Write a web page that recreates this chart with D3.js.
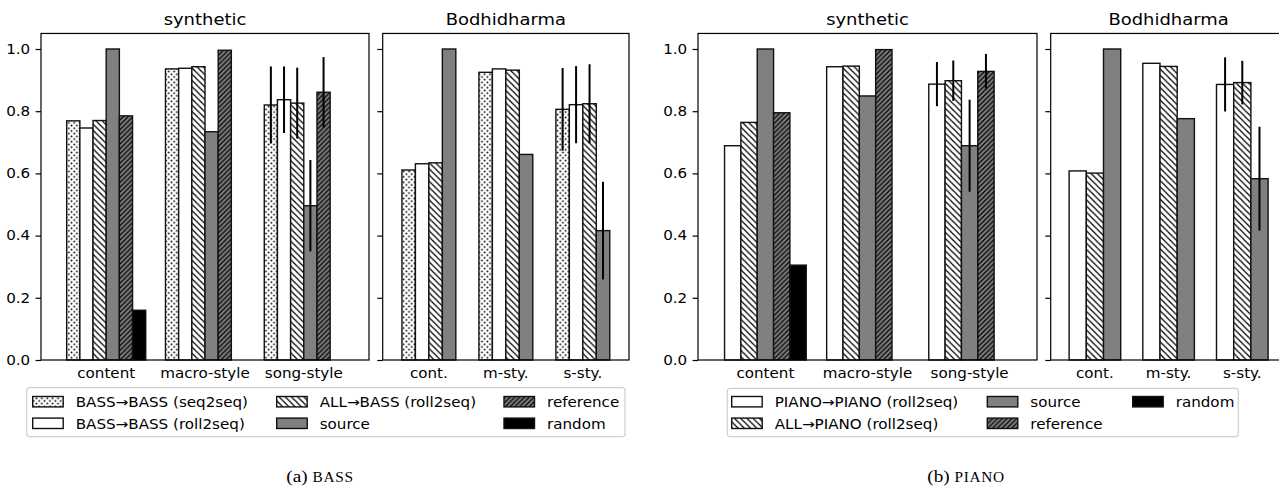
<!DOCTYPE html>
<html>
<head>
<meta charset="utf-8">
<script src="https://cdn.jsdelivr.net/npm/d3@7"></script>
<style>
body { margin: 0; background: #fff; }
text { font-family: "DejaVu Sans", sans-serif; fill: #000; }
</style>
</head>
<body>
<script>
// categories on the x axis
var synthCats = ["content", "macro-style", "song-style"];
var bodhiCats = ["cont.", "m-sty.", "s-sty."];

// legend names
var bassNames = ["BASS\u2192BASS (seq2seq)", "BASS\u2192BASS (roll2seq)", "ALL\u2192BASS (roll2seq)", "source", "reference", "random"];
var pianoNames = ["PIANO\u2192PIANO (roll2seq)", "ALL\u2192PIANO (roll2seq)", "source", "reference", "random"];

// values: one row per method, one column per category
var bassSynthVals = [
  [0.769, 0.936, 0.820],
  [0.746, 0.938, 0.837],
  [0.770, 0.943, 0.826],
  [1.000, 0.734, 0.496],
  [0.785, 0.996, 0.861],
  [0.160, 0.000, 0.000]
];
var bassSynthErr = [
  [0, 0, 0.124],
  [0, 0, 0.107],
  [0, 0, 0.114],
  [0, 0, 0.147],
  [0, 0, 0.113],
  [0, 0, 0]
];
var bassBodhiVals = [
  [0.611, 0.925, 0.806],
  [0.631, 0.936, 0.821],
  [0.634, 0.932, 0.824],
  [1.000, 0.661, 0.416]
];
var bassBodhiErr = [
  [0, 0, 0.133],
  [0, 0, 0.124],
  [0, 0, 0.127],
  [0, 0, 0.157]
];
var pianoSynthVals = [
  [0.689, 0.943, 0.887],
  [0.764, 0.945, 0.898],
  [1.000, 0.849, 0.689],
  [0.795, 0.998, 0.928],
  [0.305, 0.000, 0.000]
];
var pianoSynthErr = [
  [0, 0, 0.071],
  [0, 0, 0.065],
  [0, 0, 0.148],
  [0, 0, 0.056],
  [0, 0, 0]
];
var pianoBodhiVals = [
  [0.608, 0.954, 0.886],
  [0.601, 0.944, 0.892],
  [1.000, 0.776, 0.583]
];
var pianoBodhiErr = [
  [0, 0, 0.087],
  [0, 0, 0.070],
  [0, 0, 0.167]
];
var yTicks = [0, 0.2, 0.4, 0.6, 0.8, 1.0];

// fill style per method
var bassStyles = ["dots", "white", "back", "gray", "fwd", "black"];
var pianoStyles = ["white", "back", "gray", "fwd", "black"];

var W = 1279, H = 486;
var sx = 1.13; // the picture's text is a bit wider than tall

var svg = d3.select("body").append("svg")
    .attr("width", W)
    .attr("height", H);

// hatch patterns
var defs = svg.append("defs");
function hatch(id, bg, p, dir) {
  var pat = defs.append("pattern")
      .attr("id", id)
      .attr("patternUnits", "userSpaceOnUse")
      .attr("width", p).attr("height", p);
  pat.append("rect").attr("width", p).attr("height", p).attr("fill", bg);
  var d = dir == "back"
    ? "M0,0L" + p + "," + p + "M" + (-p / 2) + "," + (p / 2) + "L" + (p / 2) + "," + (p * 1.5) + "M" + (p / 2) + "," + (-p / 2) + "L" + (p * 1.5) + "," + (p / 2)
    : "M0," + p + "L" + p + ",0M" + (-p / 2) + "," + (p / 2) + "L" + (p / 2) + "," + (-p / 2) + "M" + (p / 2) + "," + (p * 1.5) + "L" + (p * 1.5) + "," + (p / 2);
  pat.append("path").attr("d", d).attr("stroke", "#000").attr("stroke-width", 1.25).attr("fill", "none");
}
hatch("hback", "#fff", 6.2, "back");
hatch("hfwd", "#808080", 4.8, "fwd");
var dots = defs.append("pattern")
    .attr("id", "hdots")
    .attr("patternUnits", "userSpaceOnUse")
    .attr("width", 5.4).attr("height", 5.4);
dots.append("rect").attr("width", 5.4).attr("height", 5.4).attr("fill", "#fff");
dots.append("circle").attr("cx", 1.35).attr("cy", 1.35).attr("r", 0.95).attr("fill", "#000");
dots.append("circle").attr("cx", 4.05).attr("cy", 4.05).attr("r", 0.95).attr("fill", "#000");

var fills = {
  dots: "url(#hdots)",
  white: "#fff",
  back: "url(#hback)",
  gray: "#808080",
  fwd: "url(#hfwd)",
  black: "#000"
};

var y = d3.scaleLinear().domain([0, 1.05]).range([360, 33.45]);

var panels = [
  {title: "synthetic", cats: synthCats, vals: bassSynthVals, err: bassSynthErr, styles: bassStyles, x0: 41, x1: 369, dom: [-0.66, 2.66], gw: 0.8, labels: true},
  {title: "Bodhidharma", cats: bodhiCats, vals: bassBodhiVals, err: bassBodhiErr, styles: bassStyles, x0: 382.7, x1: 629, dom: [-0.6, 2.6], gw: 0.7, labels: false},
  {title: "synthetic", cats: synthCats, vals: pianoSynthVals, err: pianoSynthErr, styles: pianoStyles, x0: 698, x1: 1037, dom: [-0.66, 2.66], gw: 0.8, labels: true},
  {title: "Bodhidharma", cats: bodhiCats, vals: pianoBodhiVals, err: pianoBodhiErr, styles: pianoStyles, x0: 1050.7, x1: 1286.5, dom: [-0.6, 2.6], gw: 0.7, labels: false}
];

panels.forEach(function(p) {
  var x = d3.scaleLinear().domain(p.dom).range([p.x0, p.x1]);
  var n = p.vals.length;
  var w = p.gw / n;
  var g = svg.append("g");

  // bars
  p.vals.forEach(function(row, i) {
    g.selectAll(null)
      .data(row)
      .enter().append("rect")
        .attr("x", function(d, j) { return x(j - p.gw / 2 + i * w); })
        .attr("y", function(d) { return y(d); })
        .attr("width", x(w) - x(0))
        .attr("height", function(d) { return y(0) - y(d); })
        .attr("fill", fills[p.styles[i]])
        .attr("stroke", "#111")
        .attr("stroke-width", 1.4);
  });

  // error bars
  p.err.forEach(function(row, i) {
    row.forEach(function(e, j) {
      if (!e) return;
      var v = p.vals[i][j];
      var cx = x(j - p.gw / 2 + (i + 0.5) * w);
      g.append("line")
        .attr("x1", cx).attr("x2", cx)
        .attr("y1", y(v - e)).attr("y2", y(v + e))
        .attr("stroke", "#000")
        .attr("stroke-width", 2);
    });
  });

  // spines
  g.append("rect")
    .attr("x", p.x0).attr("y", y(1.05))
    .attr("width", p.x1 - p.x0).attr("height", y(0) - y(1.05))
    .attr("fill", "none")
    .attr("stroke", "#000")
    .attr("stroke-width", 1.2);

  // y axis
  var ax = g.append("g")
    .attr("transform", "translate(" + p.x0 + ",0)")
    .call(d3.axisLeft(y).tickValues(yTicks).tickSize(5.4).tickPadding(5.4).tickFormat(d3.format(".1f")));
  ax.select(".domain").remove();
  ax.selectAll("line").attr("stroke-width", 1.2);
  ax.selectAll("text")
    .style("font-family", "DejaVu Sans")
    .attr("font-size", 13.4)
    .attr("x", 0)
    .attr("transform", "translate(-10.8,0) scale(" + sx + ",1)");
  if (!p.labels) ax.selectAll("text").remove();

  // x labels
  g.selectAll(null)
    .data(p.cats)
    .enter().append("text")
      .attr("transform", function(d, j) { return "translate(" + x(j) + ",377.5) scale(" + sx + ",1)"; })
      .attr("text-anchor", "middle")
      .attr("font-size", 13.4)
      .text(function(d) { return d; });

  // title
  g.append("text")
    .attr("transform", "translate(" + ((p.x0 + p.x1) / 2) + ",25) scale(" + sx + ",1)")
    .attr("text-anchor", "middle")
    .attr("font-size", 15.9)
    .text(p.title);
});

// legends
function legend(names, styles, box, hx, rows) {
  var g = svg.append("g");
  g.append("rect")
    .attr("x", box[0]).attr("y", box[1])
    .attr("width", box[2] - box[0]).attr("height", box[3] - box[1])
    .attr("rx", 3)
    .attr("fill", "#fff")
    .attr("stroke", "#d0d0d0")
    .attr("stroke-width", 1.2);
  names.forEach(function(name, k) {
    var col = Math.floor(k / 2), row = k % 2;
    var cy = rows[row];
    g.append("rect")
      .attr("x", hx[col]).attr("y", cy - 5.2)
      .attr("width", 30.5).attr("height", 10.4)
      .attr("fill", fills[styles[k]])
      .attr("stroke", "#111")
      .attr("stroke-width", 1.4);
    g.append("text")
      .attr("transform", "translate(" + (hx[col] + 43) + "," + (cy + 5.2) + ") scale(" + sx + ",1)")
      .attr("font-size", 13.4)
      .text(name);
  });
}
legend(bassNames, bassStyles, [26.7, 387.7, 625, 436.7], [32.7, 276.7, 504], [401.7, 423.3]);
legend(pianoNames, pianoStyles, [727.3, 388.3, 1238.3, 436.7], [731.7, 987.3, 1132.7], [401.7, 423.3]);

// captions
function caption(cx, label, name) {
  var t = svg.append("text")
    .attr("transform", "translate(" + cx + ",482) scale(" + sx + ",1)")
    .attr("text-anchor", "middle")
    .style("font-family", "'Liberation Serif', serif")
    .attr("font-size", 17);
  t.append("tspan").text(label + " ");
  t.append("tspan").attr("font-size", 13.6).attr("letter-spacing", 0.6).text(name);
}
caption(320, "(a)", "BASS");
caption(966, "(b)", "PIANO");
</script>
</body>
</html>
